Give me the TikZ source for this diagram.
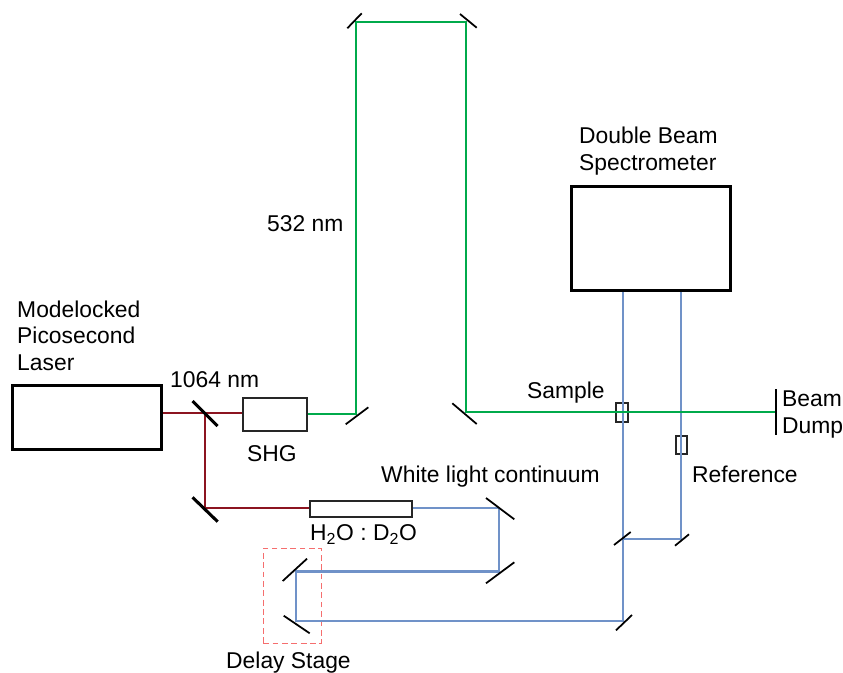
\documentclass[tikz,border=0pt]{standalone}
\usepackage{fontspec}
\setmainfont{Liberation Sans}
\usetikzlibrary{positioning,calc}
\definecolor{irbeam}{RGB}{140, 20, 32}
\definecolor{greenbeam}{RGB}{0, 170, 75}
\definecolor{whitebeam}{RGB}{112, 146, 200}
\definecolor{stagered}{RGB}{245, 110, 110}
\def\pxu{0.03cm}

\begin{document}
\begin{tikzpicture}[
    x=0.03cm, y=-0.03cm,
    font=\fontsize{19.5}{22.6}\selectfont,
    label/.style={anchor=base west, inner sep=0pt, align=left},
    heavybox/.style={draw=black, line width=2.65pt, inner sep=0pt},
    thinbox/.style={draw=black!85, line width=1.7pt, inner sep=0pt},
    beam/.style={line width=2pt},
    mirror/.style={draw=black, line width=1.5pt},
    thickmirror/.style={draw=black, line width=2.6pt},
]
\useasboundingbox (0,0) rectangle (843,672);

% ===== Boxes =====
\node[heavybox, minimum width=149*\pxu, minimum height=64*\pxu] (laser) at (87,417.5) {};
\node[heavybox, minimum width=159*\pxu, minimum height=104*\pxu] (spect) at (651,238.5) {};
\node[thinbox, minimum width=64.5*\pxu, minimum height=33*\pxu] (shg) at (275.2,414) {};
\node[thinbox, minimum width=102*\pxu, minimum height=16*\pxu] (cell) at (361.2,508.5) {};
\node[thinbox, minimum width=12*\pxu, minimum height=19*\pxu] (samplecell) at (622,412.2) {};
\node[thinbox, minimum width=11*\pxu, minimum height=18.5*\pxu] (refcell) at (681.3,445) {};
\node[draw=stagered, dashed, dash pattern=on 5pt off 3pt, line width=1.1pt, inner sep=0pt,
    minimum width=58*\pxu, minimum height=95*\pxu] (stagebox) at (292.2,595.7) {};

% ===== Beam corners =====
\coordinate (irsplit) at (204.7,413.3);
\coordinate (irfold) at (204.7,507.7);
\coordinate (gr1) at (356,414);
\coordinate (gr2) at (356,22);
\coordinate (gr3) at (466,22);
\coordinate (gr4) at (466,412);
\coordinate (dump) at (776,412);
\coordinate (wl1) at (499,508.3);
\coordinate (wl2) at (499,571.5);
\coordinate (wl3) at (295.7,571.5);
\coordinate (wl4) at (295.7,621);
\coordinate (wl5) at (622.7,621);
\coordinate (wl6) at (622.7,538.7);
\coordinate (wl7) at (680.7,538.7);

% ===== Beams =====
\draw[beam, whitebeam] (cell.east |- wl1) -- (wl1) -- (wl2) -- (wl3) -- (wl4) -- (wl5) -- (wl6)
    -- (wl6 |- spect.south);
\draw[beam, whitebeam] (wl6) -- (wl7) -- (wl7 |- spect.south);
\draw[beam, irbeam] (laser.east |- irsplit) -- (shg.west |- irsplit);
\draw[beam, irbeam] (irsplit) -- (irfold) -- (cell.west |- irfold);
\draw[beam, greenbeam] (shg.east) -- (gr1) -- (gr2) -- (gr3) -- (gr4) -- (dump);

% ===== Mirrors =====
% corner / start offset / end offset
\foreach \m/\ax/\ay/\bx/\by in {
    gr1/-10.3/10.3/12.3/-6.7, gr2/-8.7/6.3/5.7/-8.7, gr3/-6/-8/10.7/5.7, gr4/-13.7/-8.7/10.7/12,
    wl1/-13/-10.3/15.3/11, wl2/-13/11.8/15.3/-9.2, wl3/-13/9.5/11.3/-12.8, wl4/-12/-5.3/14/12.3,
    wl5/-6.7/9.3/9.3/-6, wl6/-8.7/6.3/8/-6.7, wl7/-5.7/7/8.3/-4.4} {
    \draw[mirror] (\m) ++(\ax,\ay) -- ++({\bx-\ax},{\by-\ay});
}
\draw[thickmirror] (irsplit) ++(-12.2,-12.3) -- ++(25,25);
\draw[thickmirror] (irfold) ++(-12.2,-10.4) -- ++(25.2,24.4);
\draw[mirror, line width=1.7pt] (dump) ++(0,-23) -- ++(0,46);

% ===== Labels =====
\node[label] (laserlabel) at (17,370) {Modelocked\\Picosecond\\Laser};
\node[label] (spectlabel) at (579,170) {Double Beam\\Spectrometer};
\node[label] (greenlabel) at (267,231) {532 nm};
\node[label] (irlabel) at (170,387) {1064 nm};
\node[label] (shglabel) at (247,461.7) {SHG};
\node[label] (wllabel) at (381,482) {White light continuum};
\node[label] (celllabel) at (310,540.7) {H\textsubscript{2}O : D\textsubscript{2}O};
\node[label] (samplelabel) at (527,398) {Sample};
\node[label] (reflabel) at (692,482) {Reference};
\node[label] (dumplabel) at (782,433) {Beam\\Dump};
\node[label] (stagelabel) at (226,668) {Delay Stage};

\end{tikzpicture}
\end{document}
